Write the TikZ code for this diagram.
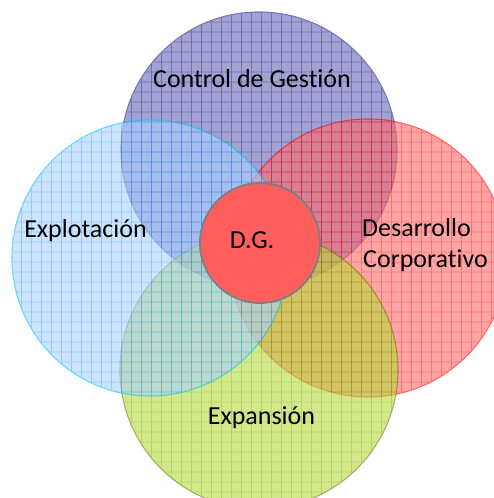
\documentclass[tikz,border=0pt]{standalone}
\usepackage{fontspec}
\setmainfont{Carlito}[Ligatures=NoCommon]
\definecolor{topF}{RGB}{100,100,182}
\definecolor{topL}{RGB}{20,20,125}
\definecolor{topB}{RGB}{30,30,140}
\definecolor{leftF}{RGB}{170,210,255}
\definecolor{leftL}{RGB}{80,165,255}
\definecolor{leftB}{RGB}{0,195,245}
\definecolor{rightF}{RGB}{255,105,105}
\definecolor{rightL}{RGB}{255,20,20}
\definecolor{rightB}{RGB}{255,0,0}
\definecolor{botF}{RGB}{183,217,60}
\definecolor{botL}{RGB}{120,185,0}
\definecolor{botB}{RGB}{105,125,0}
\definecolor{dgF}{RGB}{255,94,94}
\definecolor{dgB}{RGB}{127,127,127}
\newcommand\venncircle[5]{%
  \begin{scope}[transparency group, opacity=0.6]
    \fill[#3] #1 circle (#2);
    \begin{scope}
      \clip #1 circle (#2);
      \draw[#4, line width=0.9pt, shift={(1.5,6)}] (-10,-10) grid[step=10] (510,510);
    \end{scope}
    \draw[#5, line width=1.1pt] #1 circle (#2);
  \end{scope}}
\tikzset{
  lbl/.style={font=\fontsize{26}{31}\selectfont, text=black, inner sep=0pt, anchor=base},
}
\begin{document}
\begin{tikzpicture}[x=1pt, y=1pt]
  \useasboundingbox (0,0) rectangle (494,498);
  \clip (0,0) rectangle (494,498);
  \fill[white] (0,0) rectangle (494,498);
  \venncircle{(259,348)}{138}{topF}{topL}{topB}
  \venncircle{(368,240)}{139}{rightF}{rightL}{rightB}
  \venncircle{(259,128)}{139}{botF}{botL}{botB}
  \venncircle{(150,240)}{138}{leftF}{leftL}{leftB}
  \node[circle, draw=dgB, fill=dgF, line width=1.8pt, minimum size=120pt, inner sep=0pt] (dg) at (260,255) {};
  \node[lbl] (dgt) at (252,249) {D.G.};
  \node[lbl] (cg) at (252,410) {Control de Gestión};
  \node[lbl] (ex) at (85.5,260) {Explotación};
  \node[lbl, anchor=base west] (de) at (362,261) {Desarrollo};
  \node[lbl, anchor=base west] (co) at (363,230) {Corporativo};
  \node[lbl] (es) at (261.5,73) {Expansión};
\end{tikzpicture}
\end{document}
